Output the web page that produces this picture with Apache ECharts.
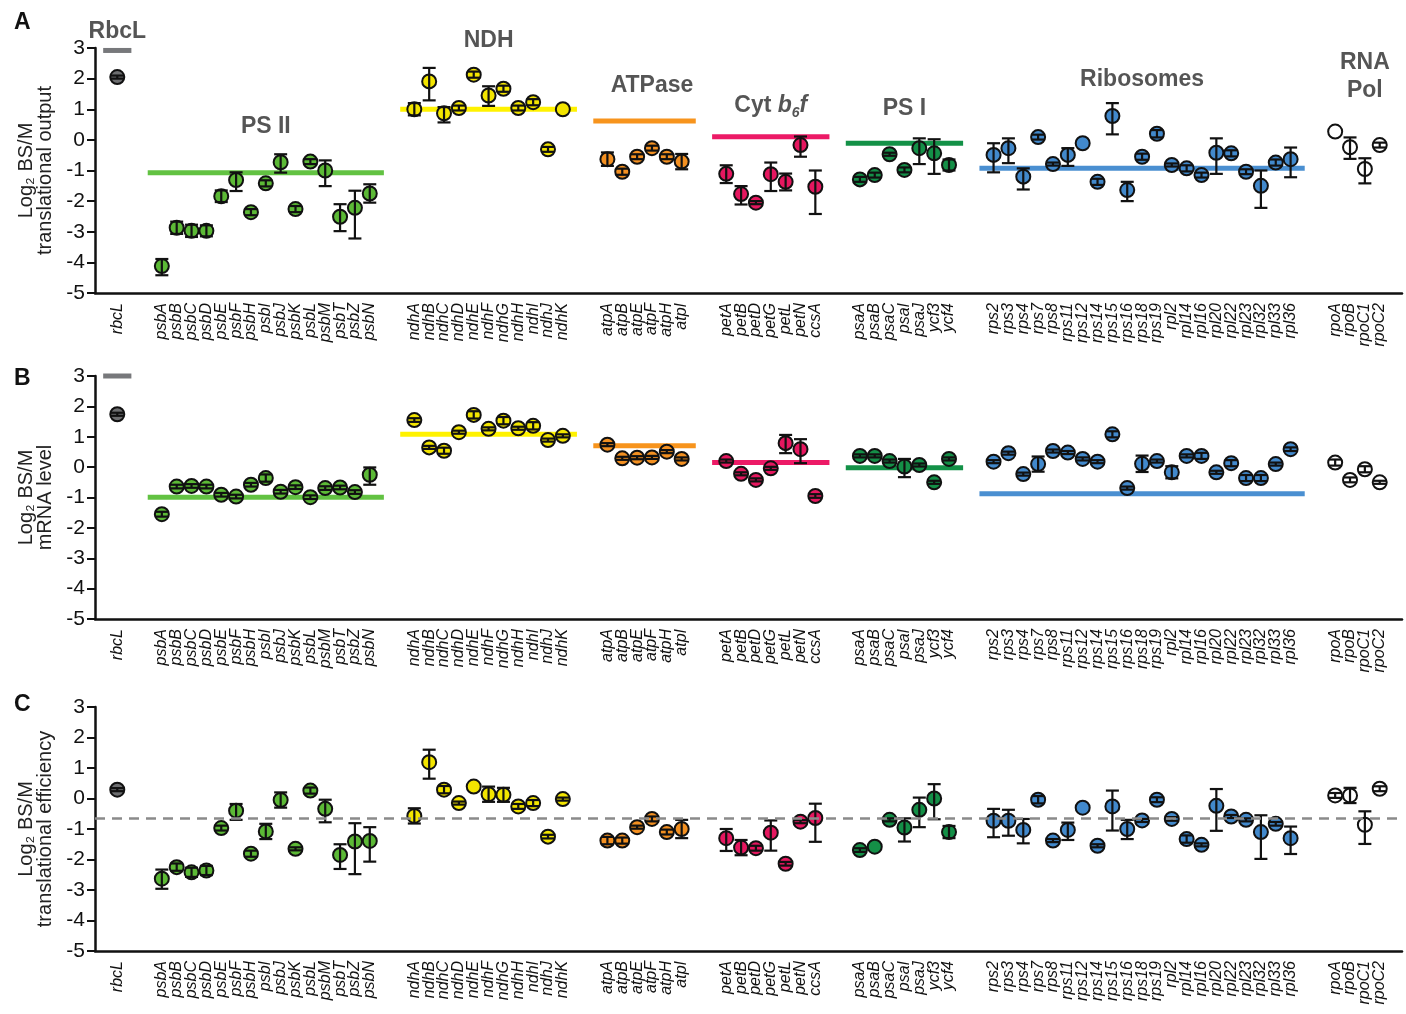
<!DOCTYPE html>
<html>
<head>
<meta charset="utf-8">
<script src="https://cdn.jsdelivr.net/npm/echarts@6/dist/echarts.min.js"></script>
<style>
  html, body { margin: 0; padding: 0; background: #fff; }
  #main { width: 1406px; height: 1014px; }
</style>
</head>
<body>
<div id="main"></div>
<script>
// gene groups, in plotting order
var groupNames = ['RbcL', 'PS II', 'NDH', 'ATPase', 'Cyt b6f', 'PS I', 'Ribosomes', 'RNA Pol'];
var groupGenes = [
  ['rbcL'],
  ['psbA', 'psbB', 'psbC', 'psbD', 'psbE', 'psbF', 'psbH', 'psbI', 'psbJ', 'psbK', 'psbL', 'psbM', 'psbT', 'psbZ', 'psbN'],
  ['ndhA', 'ndhB', 'ndhC', 'ndhD', 'ndhE', 'ndhF', 'ndhG', 'ndhH', 'ndhI', 'ndhJ', 'ndhK'],
  ['atpA', 'atpB', 'atpE', 'atpF', 'atpH', 'atpI'],
  ['petA', 'petB', 'petD', 'petG', 'petL', 'petN', 'ccsA'],
  ['psaA', 'psaB', 'psaC', 'psaI', 'psaJ', 'ycf3', 'ycf4'],
  ['rps2', 'rps3', 'rps4', 'rps7', 'rps8', 'rps11', 'rps12', 'rps14', 'rps15', 'rps16', 'rps18', 'rps19',
   'rpl2', 'rpl14', 'rpl16', 'rpl20', 'rpl22', 'rpl23', 'rpl32', 'rpl33', 'rpl36'],
  ['rpoA', 'rpoB', 'rpoC1', 'rpoC2']
];
var groupColors = ['#6d6e70', '#5cb936', '#f3e500', '#f39021', '#e5175f', '#148f47', '#4289cc', '#ffffff'];
var lineColors  = ['#77787b', '#62c242', '#fff200', '#f7941d', '#ec1a66', '#139147', '#4a8fd1', null];

// A: translational output
var valsA = [2.05,
  -4.12, -2.87, -2.97, -2.97, -1.84, -1.31, -2.36, -1.42, -0.73, -2.26, -0.71, -1.0, -2.51, -2.22, -1.75,
  1.0, 1.91, 0.87, 1.04, 2.13, 1.45, 1.67, 1.04, 1.23, -0.31, 1.0,
  -0.63, -1.04, -0.55, -0.27, -0.55, -0.71,
  -1.11, -1.77, -2.05, -1.12, -1.37, -0.17, -1.53,
  -1.29, -1.15, -0.47, -0.98, -0.27, -0.44, -0.82,
  -0.49, -0.27, -1.2, 0.09, -0.79, -0.49, -0.11, -1.37, 0.78, -1.64, -0.55, 0.2, -0.82, -0.93, -1.15, -0.42, -0.44, -1.04, -1.5, -0.74, -0.63,
  0.27, -0.24, -0.95, -0.17];
var upA = [0.05,
  0.23, 0.2, 0.2, 0.18, 0.19, 0.25, 0.1, 0.1, 0.26, 0.1, 0.08, 0.33, 0.41, 0.56, 0.3,
  0.2, 0.44, 0.2, 0.08, 0.1, 0.3, 0.1, 0.08, 0.1, 0.08, 0,
  0.22, 0.1, 0.08, 0.08, 0.08, 0.25,
  0.28, 0.26, 0.05, 0.38, 0.27, 0.28, 0.53,
  0.08, 0.08, 0.05, 0.08, 0.32, 0.46, 0.18,
  0.38, 0.32, 0.27, 0.08, 0.05, 0.22, 0, 0.1, 0.42, 0.27, 0.1, 0.12, 0.05, 0.1, 0.08, 0.47, 0.1, 0.08, 0.5, 0.1, 0.38,
  0, 0.32, 0.35, 0.08];
var downA = [0.05,
  0.3, 0.2, 0.2, 0.18, 0.19, 0.36, 0.1, 0.1, 0.34, 0.1, 0.08, 0.51, 0.47, 1.0, 0.3,
  0.2, 0.62, 0.3, 0.08, 0.1, 0.34, 0.1, 0.08, 0.1, 0.08, 0,
  0.22, 0.1, 0.08, 0.08, 0.08, 0.25,
  0.3, 0.34, 0.05, 0.55, 0.28, 0.38, 0.89,
  0.08, 0.08, 0.05, 0.08, 0.52, 0.67, 0.18,
  0.57, 0.49, 0.42, 0.08, 0.05, 0.36, 0, 0.1, 0.6, 0.36, 0.1, 0.12, 0.05, 0.1, 0.08, 0.69, 0.1, 0.08, 0.72, 0.1, 0.59,
  0, 0.38, 0.47, 0.08];
var meanA = [2.92, -1.07, 1.0, 0.62, 0.1, -0.11, -0.93, null];

// B: mRNA level
var valsB = [1.74,
  -1.55, -0.64, -0.62, -0.64, -0.91, -0.97, -0.58, -0.36, -0.81, -0.66, -0.99, -0.69, -0.67, -0.82, -0.25,
  1.55, 0.65, 0.54, 1.15, 1.72, 1.26, 1.53, 1.28, 1.36, 0.89, 1.03,
  0.74, 0.29, 0.31, 0.32, 0.51, 0.27,
  0.2, -0.22, -0.42, -0.04, 0.79, 0.59, -0.95,
  0.37, 0.37, 0.2, 0.02, 0.07, -0.5, 0.27,
  0.18, 0.46, -0.23, 0.1, 0.53, 0.48, 0.27, 0.18, 1.08, -0.69, 0.11, 0.2, -0.17, 0.37, 0.37, -0.17, 0.13, -0.36, -0.36, 0.1, 0.59,
  0.15, -0.42, -0.07, -0.5];
var upB = [0.05,
  0.08, 0.06, 0.06, 0.06, 0.06, 0.06, 0.06, 0.12, 0.06, 0.06, 0.06, 0.06, 0.06, 0.06, 0.24,
  0.06, 0.05, 0.1, 0.05, 0.12, 0.05, 0.12, 0.05, 0.12, 0.05, 0.05,
  0.05, 0.05, 0.05, 0.05, 0.05, 0.05,
  0.05, 0.05, 0.05, 0.05, 0.27, 0.33, 0.06,
  0.05, 0.05, 0.05, 0.25, 0.05, 0.05, 0.05,
  0.05, 0.05, 0.05, 0.25, 0.05, 0.05, 0.05, 0.05, 0.1, 0.05, 0.27, 0.05, 0.2, 0.05, 0.1, 0.05, 0.1, 0.1, 0.1, 0.05, 0.06,
  0.1, 0.08, 0.1, 0.05];
var downB = [0.05,
  0.08, 0.06, 0.06, 0.06, 0.06, 0.06, 0.06, 0.12, 0.06, 0.06, 0.06, 0.06, 0.06, 0.06, 0.33,
  0.06, 0.05, 0.1, 0.05, 0.12, 0.05, 0.12, 0.05, 0.12, 0.05, 0.05,
  0.05, 0.05, 0.05, 0.05, 0.05, 0.05,
  0.05, 0.05, 0.05, 0.05, 0.33, 0.46, 0.06,
  0.05, 0.05, 0.05, 0.35, 0.05, 0.05, 0.05,
  0.05, 0.05, 0.05, 0.25, 0.05, 0.05, 0.05, 0.05, 0.1, 0.05, 0.27, 0.05, 0.2, 0.05, 0.1, 0.05, 0.1, 0.1, 0.1, 0.05, 0.06,
  0.1, 0.08, 0.1, 0.05];
var meanB = [3.0, -0.99, 1.08, 0.7, 0.15, -0.02, -0.88, null];

// C: translational efficiency
var valsC = [0.29,
  -2.63, -2.25, -2.42, -2.36, -0.97, -0.4, -1.81, -1.08, -0.05, -1.65, 0.26, -0.34, -1.85, -1.41, -1.39,
  -0.57, 1.19, 0.29, -0.15, 0.39, 0.14, 0.12, -0.26, -0.15, -1.25, -0.02,
  -1.38, -1.38, -0.94, -0.67, -1.1, -1.0,
  -1.3, -1.61, -1.63, -1.12, -2.14, -0.76, -0.64,
  -1.69, -1.58, -0.7, -0.95, -0.37, 0.0, -1.1,
  -0.73, -0.73, -1.03, -0.04, -1.38, -1.03, -0.3, -1.55, -0.26, -1.0, -0.72, -0.04, -0.67, -1.33, -1.52, -0.24, -0.59, -0.7, -1.1, -0.83, -1.3,
  0.1, 0.1, -0.86, 0.32];
var upC = [0.05,
  0.3, 0.12, 0.15, 0.15, 0.08, 0.22, 0.1, 0.25, 0.25, 0.05, 0.1, 0.3, 0.35, 0.6, 0.45,
  0.25, 0.41, 0.12, 0.05, 0, 0.25, 0.23, 0.08, 0.1, 0.06, 0.05,
  0.12, 0.1, 0.05, 0.08, 0.08, 0.3,
  0.3, 0.25, 0.08, 0.4, 0.06, 0.05, 0.47,
  0.06, 0, 0.05, 0.3, 0.4, 0.47, 0.2,
  0.39, 0.36, 0.36, 0.12, 0.05, 0.24, 0, 0.05, 0.52, 0.3, 0.05, 0.08, 0.06, 0.12, 0.05, 0.55, 0.05, 0.05, 0.55, 0.06, 0.38,
  0.08, 0.25, 0.44, 0.08];
var downC = [0.05,
  0.33, 0.12, 0.15, 0.15, 0.08, 0.3, 0.1, 0.25, 0.25, 0.05, 0.1, 0.44, 0.46, 1.07, 0.68,
  0.25, 0.54, 0.12, 0.05, 0, 0.25, 0.23, 0.08, 0.1, 0.06, 0.05,
  0.12, 0.1, 0.05, 0.08, 0.08, 0.3,
  0.42, 0.25, 0.08, 0.59, 0.06, 0.05, 0.78,
  0.06, 0, 0.05, 0.46, 0.57, 0.68, 0.2,
  0.54, 0.49, 0.44, 0.12, 0.05, 0.33, 0, 0.05, 0.79, 0.33, 0.05, 0.08, 0.06, 0.12, 0.05, 0.82, 0.05, 0.05, 0.88, 0.06, 0.52,
  0.08, 0.25, 0.63, 0.08];
var refC = -0.64;

var yTicks = [-5, 3, 1];

var FONT = 'Liberation Sans, Arial, sans-serif';

// build category axis with two empty slots between groups
var cats = ['_0'];
var geneIdx = [];   // axis index of each gene
var geneGroup = []; // group of each gene
var groupSpan = []; // first/last axis index of each group
var gapN = 1;
groupGenes.forEach(function (genes, g) {
  if (g > 0) { cats.push('_' + (gapN++)); cats.push('_' + (gapN++)); }
  var first = cats.length;
  genes.forEach(function (name) {
    geneIdx.push(cats.length);
    geneGroup.push(g);
    cats.push(name);
  });
  groupSpan.push([first, cats.length - 1]);
});
cats.push('_' + (gapN++));

function isGap(v) { return v.charAt(0) === '_'; }

function pointData(vals) {
  return vals.map(function (v, i) {
    return { value: [geneIdx[i], v], itemStyle: { color: groupColors[geneGroup[i]] } };
  });
}
function errData(vals, up, down) {
  var out = [];
  vals.forEach(function (v, i) {
    if (up[i] > 0 || down[i] > 0) out.push([geneIdx[i], v - down[i], v + up[i]]);
  });
  return out;
}
function meanData(means) {
  var out = [];
  means.forEach(function (m, g) {
    if (m !== null) out.push([groupSpan[g][0], groupSpan[g][1], m, g]);
  });
  return out;
}

function renderErr(params, api) {
  var x = api.value(0);
  var lo = api.coord([x, api.value(1)]);
  var hi = api.coord([x, api.value(2)]);
  var w = 6.5;
  var st = { stroke: '#111', lineWidth: 2.2 };
  return {
    type: 'group',
    children: [
      { type: 'line', shape: { x1: hi[0], y1: hi[1], x2: lo[0], y2: lo[1] }, style: st },
      { type: 'line', shape: { x1: hi[0] - w, y1: hi[1], x2: hi[0] + w, y2: hi[1] }, style: st },
      { type: 'line', shape: { x1: lo[0] - w, y1: lo[1], x2: lo[0] + w, y2: lo[1] }, style: st }
    ]
  };
}
function renderMean(params, api) {
  var a = api.coord([api.value(0), api.value(2)]);
  var b = api.coord([api.value(1), api.value(2)]);
  var bw = api.size([1, 0])[0];
  return {
    type: 'line',
    shape: { x1: a[0] - 0.95 * bw, y1: a[1], x2: b[0] + 0.95 * bw, y2: b[1] },
    style: { stroke: lineColors[api.value(3)], lineWidth: 5 }
  };
}

var grids = [
  { left: 95, right: 4, top: 48, height: 245 },
  { left: 95, right: 4, top: 376, height: 243 },
  { left: 95, right: 4, top: 707, height: 244 }
];
var yNames = [
  'Log\u2082 BS/M\ntranslational output',
  'Log\u2082 BS/M\nmRNA level',
  'Log\u2082 BS/M\ntranslational efficiency'
];

var xAxes = [], yAxes = [];
for (var k = 0; k < 3; k++) {
  xAxes.push({
    type: 'category', gridIndex: k, data: cats, boundaryGap: true,
    axisLine: { onZero: false, lineStyle: { color: '#111', width: 2.5 } },
    axisTick: {
      alignWithLabel: true, length: 8, lineStyle: { color: '#111', width: 2 },
      interval: function (i, v) { return !isGap(v); }
    },
    axisLabel: {
      // keep the empty end slots as (blank) first/last labels so no gene label gets dropped
      interval: function (i, v) { return !isGap(v) || i === 0 || i === cats.length - 1; },
      formatter: function (v) { return isGap(v) ? '' : v; },
      showMinLabel: true, showMaxLabel: true, hideOverlap: false,
      rotate: 90, margin: 10, fontSize: 16, fontStyle: 'italic',
      color: '#111', fontFamily: FONT
    },
    splitLine: { show: false }
  });
  yAxes.push({
    type: 'value', gridIndex: k, min: yTicks[0], max: yTicks[1], interval: yTicks[2],
    axisLine: { show: true, onZero: false, lineStyle: { color: '#111', width: 2.5 } },
    axisTick: { show: true, length: 8, lineStyle: { color: '#111', width: 2 } },
    axisLabel: { fontSize: 21, color: '#111', margin: 10, fontFamily: FONT },
    splitLine: { show: false },
    name: yNames[k], nameLocation: 'middle', nameRotate: 90, nameGap: 35,
    nameTextStyle: { fontSize: 20, color: '#222', lineHeight: 19, fontFamily: FONT }
  });
}

var panels = [[valsA, upA, downA, meanA], [valsB, upB, downB, meanB], [valsC, upC, downC, null]];
var series = [];
panels.forEach(function (p, k) {
  if (p[3]) {
    series.push({
      type: 'custom', xAxisIndex: k, yAxisIndex: k, z: 1, silent: true,
      renderItem: renderMean, encode: { x: [0, 1], y: 2 },
      data: meanData(p[3])
    });
  }
  var sc = {
    type: 'scatter', xAxisIndex: k, yAxisIndex: k, z: 3, silent: true,
    symbol: 'circle', symbolSize: 14,
    itemStyle: { borderColor: '#111', borderWidth: 2, opacity: 1 },
    data: pointData(p[0])
  };
  if (k === 2) {
    sc.markLine = {
      silent: true, symbol: 'none', label: { show: false },
      lineStyle: { color: '#8a8a8a', width: 2.5, type: [10, 7] },
      data: [{ yAxis: refC }]
    };
  }
  series.push(sc);
  series.push({
    type: 'custom', xAxisIndex: k, yAxisIndex: k, z: 4, silent: true,
    renderItem: renderErr, encode: { x: 0, y: [1, 2] },
    data: errData(p[0], p[1], p[2])
  });
});

// group titles above panel A, placed in data coordinates
var titlePos = [[1, 3.53], [11, 0.42], [25.6, 3.24], [36.5, 1.77], [44.8, 1.11], [53.8, 1.01], [70, 1.96], [84.6, 2.06]];
series.push({
  type: 'scatter', xAxisIndex: 0, yAxisIndex: 0, z: 5, silent: true, clip: false,
  symbolSize: 0,
  data: titlePos.map(function (p, g) { return { value: p, name: groupNames[g] }; }),
  label: {
    show: true, position: 'inside', color: '#2b2b2b', fontSize: 23, fontWeight: 'bold',
    fontFamily: FONT, lineHeight: 28,
    formatter: function (d) {
      if (d.name === 'Cyt b6f') return '{n|Cyt }{i|b}{s|6}{i|f}';
      if (d.name === 'RNA Pol') return 'RNA\nPol';
      return d.name;
    },
    rich: {
      n: { fontSize: 23, fontWeight: 'bold', color: '#2b2b2b', fontFamily: FONT },
      i: { fontSize: 23, fontWeight: 'bold', fontStyle: 'italic', color: '#2b2b2b', fontFamily: FONT },
      s: { fontSize: 14, fontWeight: 'bold', fontStyle: 'italic', color: '#2b2b2b', fontFamily: FONT,
           verticalAlign: 'bottom', padding: [12, 0, 0, 0] }
    }
  }
});

var chart = echarts.init(document.getElementById('main'), null, { renderer: 'canvas' });
chart.setOption({
  backgroundColor: '#fff',
  animation: false,
  title: [
    { text: 'A', left: 9, top: 6, textStyle: { fontSize: 23, fontWeight: 'bold', color: '#111', fontFamily: FONT } },
    { text: 'B', left: 9, top: 362, textStyle: { fontSize: 23, fontWeight: 'bold', color: '#111', fontFamily: FONT } },
    { text: 'C', left: 9, top: 688, textStyle: { fontSize: 23, fontWeight: 'bold', color: '#111', fontFamily: FONT } }
  ],
  grid: grids,
  xAxis: xAxes,
  yAxis: yAxes,
  series: series
});
</script>
</body>
</html>
